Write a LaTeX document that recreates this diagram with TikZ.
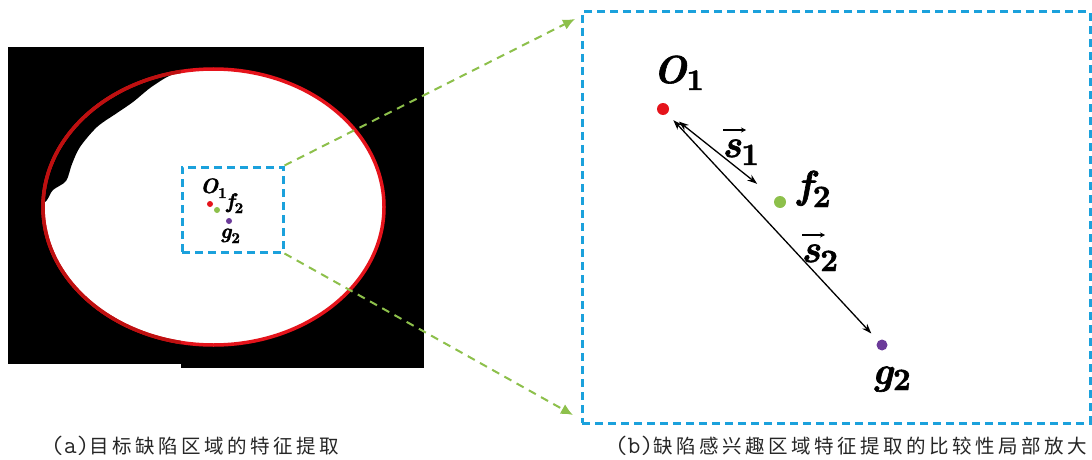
\documentclass[tikz,border=0pt]{standalone}
\usepackage{fontspec}
\newfontfamily\cjk[LetterSpace=18]{Noto Sans CJK SC}
\newfontfamily\lbl{lmroman10-bolditalic.otf}[FakeBold=1.6]
\newfontfamily\lblup{lmroman10-bold.otf}[FakeBold=1.4]
\usetikzlibrary{arrows.meta}
\definecolor{zblue}{HTML}{1BA1DC}
\definecolor{zgreen}{HTML}{8DC04B}
\definecolor{zred}{HTML}{E5131B}
\definecolor{zdred}{HTML}{BE1010}
\definecolor{zpurple}{HTML}{6B3A99}
\newcommand{\subx}[3]{\raisebox{-#1pt}{\lblup\fontsize{#2}{#2}\selectfont #3}}
\begin{document}
\begin{tikzpicture}[x=1pt,y=-1pt,
  big/.style={inner sep=0pt, font=\lbl\fontsize{39}{39}\selectfont, anchor=base west},
  small/.style={inner sep=0pt, font=\lbl\fontsize{21}{21}\selectfont, anchor=base west},
  dotnode/.style={circle, inner sep=0pt, minimum size=#1},
  zoombox/.style={draw=zblue, line width=3pt, dash pattern=on 8pt off 5pt, inner sep=0pt},
  linkline/.style={draw=zgreen, line width=2pt, dash pattern=on 8pt off 6pt, -{Latex[length=12pt,width=11pt]}},
  vecline/.style={line width=1.3pt, {Stealth[length=10pt,width=7pt]}-{Stealth[length=10pt,width=7pt]}},
  vechat/.style={line width=1.2pt, -{Stealth[length=5pt,width=5pt]}},
  caption/.style={font=\cjk\fontsize{19.5}{19.5}\selectfont, inner sep=0pt, text=black!85}
]
\useasboundingbox (0,0) rectangle (1092,460);
\fill[white] (0,0) rectangle (1092,460);

% ---- left image ----
\fill[black] (8,47) rectangle (181,364);
\fill[black] (181,47) rectangle (424,368);
\fill[white] (213.5,207) ellipse [x radius=170.5pt, y radius=138pt];
\begin{scope}
  \clip (213.5,207) ellipse [x radius=170.5pt, y radius=138pt];
  \fill[black] plot[smooth] coordinates {(40,206) (47,200) (53,190) (66,181) (72,164) (80,147) (97,127) (117,113) (133,102) (150,88) (167,77) (180,72) (195,66)} -- (195,40) -- (30,40) -- (30,206) -- cycle;
\end{scope}
\draw[zred, line width=3.5pt] (213.5,207) ellipse [x radius=170.5pt, y radius=138pt];
\begin{scope}
  \clip (0,0) rectangle (181,460);
  \draw[zdred, line width=3.5pt] (213.5,207) ellipse [x radius=170.5pt, y radius=138pt];
\end{scope}

% small zoom box
\node[zoombox, minimum width=101pt, minimum height=85pt] (zA) at (232.5,209.5) {};
\node[dotnode=6pt, fill=zred] (oA) at (210,204) {};
\node[dotnode=6pt, fill=zgreen] (fA) at (217,210) {};
\node[dotnode=6pt, fill=zpurple] (gA) at (229,221) {};
\node[small] (oAl) at (200,193) {O\subx{5}{15}{1}};
\node[small] (fAl) at (226,208) {f\subx{5}{15}{2}};
\node[small] (gAl) at (220,238) {g\subx{5}{15}{2}};

% ---- right zoom ----
\node[zoombox, minimum width=508pt, minimum height=411pt] (zB) at (836,217.5) {};
\coordinate (tA) at (575,19);
\coordinate (tB) at (573,415);
\draw[linkline] (zA.north east) -- (tA);
\draw[linkline] (zA.south east) -- (tB);

\node[dotnode=12pt, fill=zred] (oB) at (663,109) {};
\node[dotnode=12pt, fill=zgreen] (fB) at (780,202) {};
\node[dotnode=11pt, fill=zpurple] (gB) at (882,345) {};

\node[big] (oBl) at (653,83) {O\subx{7}{30}{1}};
\node[big] (fBl) at (797,198) {f\subx{9}{31}{2}};
\node[big] (gBl) at (872,384) {g\subx{6}{31}{2}};

\draw[vecline, shorten <=14pt, shorten >=23pt] (oB) -- (fB);
\draw[vecline, shorten <=9pt, shorten >=10pt] (oB) -- (gB);

\node[big] (s1) at (722,157) {s\subx{8}{31}{1}};
\node[big] (s2) at (801,262) {s\subx{9}{31}{2}};
\draw[vechat] ([shift={(1pt,27pt)}]s1.base west) -- ++(23,0);
\draw[vechat] ([shift={(1pt,27pt)}]s2.base west) -- ++(23,0);

% captions
\node[caption] (capA) at (195,446) {{\ttfamily\fontsize{25}{25}\selectfont (a)}目标缺陷区域的特征提取};
\node[caption] (capB) at (851,446) {{\ttfamily\fontsize{25}{25}\selectfont (b)}缺陷感兴趣区域特征提取的比较性局部放大};
\end{tikzpicture}
\end{document}
